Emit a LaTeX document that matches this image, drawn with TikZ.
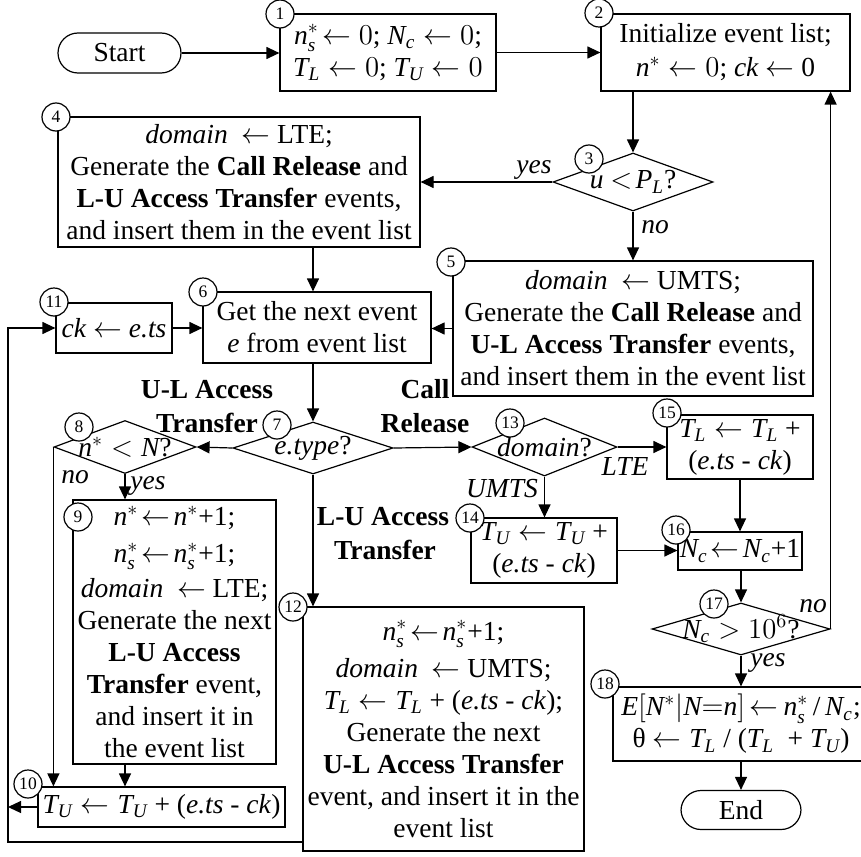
\documentclass[tikz,border=0pt]{standalone}
\usepackage{fontspec}
\setmainfont{Liberation Serif}
\usetikzlibrary{arrows.meta,shapes.geometric}
\newcommand\mainsz{\fontsize{13.75}{16}\selectfont}
\newcommand\numsz{\fontsize{8.75}{10}\selectfont}
\newcommand\mnss{\mathit{n}_{\mathit{s}}^{*}}
\newcommand\mnst{\mathit{n}^{*}}
\newcommand\mNc{\mathit{N}_{\mathit{c}}}
\newcommand\mTL{\mathit{T}_{\mathit{L}}}
\newcommand\mTU{\mathit{T}_{\mathit{U}}}
\newcommand\etsck{(\textit{e.ts} - \textit{ck})}
\begin{document}
\begin{tikzpicture}[x=0.5pt,y=-0.5pt, line width=0.6pt,
  >={Triangle[length=6.5pt,width=6pt]},
  box/.style={draw, rectangle, inner sep=0pt, align=center, font=\mainsz},
  term/.style={draw, rectangle, rounded corners=10pt, inner sep=0pt, font=\mainsz},
  dia/.style={draw, diamond, inner sep=0pt},
  dlab/.style={font=\mainsz, inner sep=0pt},
  num/.style={draw, circle, fill=white, inner sep=0pt, minimum size=14pt, font=\numsz},
  lbl/.style={inner sep=0pt, font=\mainsz\itshape},
  blbl/.style={inner sep=0pt, font=\mainsz\bfseries}]
\useasboundingbox (0,0) rectangle (861,856);

% terminals
\node[term, minimum width=61.5pt, minimum height=20pt] (start) at (119.5,53) {Start};
\node[term, minimum width=60pt, minimum height=19.5pt] (end) at (741,810) {End};

% boxes
\node[box, minimum width=108pt, minimum height=38.5pt] (b1) at (388,52.5)
  {$\mnss\!\leftarrow 0$; $\mNc \leftarrow 0$;\\ $\mTL \leftarrow 0$; $\mTU \leftarrow 0$};
\node[box, minimum width=124.5pt, minimum height=38.5pt] (b2) at (725.5,52.5)
  {Initialize event list;\\[1pt] $\mnst \leftarrow 0$; \textit{ck} $\leftarrow$ 0};
\node[box, minimum width=181pt, minimum height=65pt] (b4) at (239,182)
  {\textit{domain} \ $\leftarrow$ LTE;\\ Generate the \textbf{Call Release} and\\ \textbf{L-U Access Transfer} events,\\ and insert them in the event list};
\node[box, minimum width=180pt, minimum height=67.5pt] (b5) at (633,328.5)
  {\textit{domain} \ $\leftarrow$ UMTS;\\ Generate the \textbf{Call Release} and\\ \textbf{U-L Access Transfer} events,\\ and insert them in the event list};
\node[box, minimum width=114pt, minimum height=35.5pt] (b6) at (317,327.5)
  {Get the next event\\ \textit{e} from event list};
\node[box, minimum width=58pt, minimum height=25pt] (b11) at (114,328)
  {\textit{ck} $\leftarrow$ \textit{e.ts}};
\node[box, minimum width=101.5pt, minimum height=132pt] (b9) at (174.5,632)
  {$\mnst\!\leftarrow\!\mnst$+1;\\[2.5pt] $\mnss\!\leftarrow\!\mnss$+1;\\[1.5pt] \textit{domain} \ $\leftarrow$ LTE;\\ Generate the next\\ \textbf{L-U Access}\\ \textbf{Transfer} event,\\ and insert it in\\ the event list};
\node[box, minimum width=123.5pt, minimum height=20pt] (b10) at (161.5,807)
  {$\mTU \leftarrow \mTU$ + \etsck};
\node[box, minimum width=140.5pt, minimum height=122pt] (b12) at (443.5,729)
  {$\mnss\!\leftarrow\!\mnss$+1;\\[2.5pt] \textit{domain} \ $\leftarrow$ UMTS;\\ $\mTL \leftarrow \mTL$ + \etsck;\\ Generate the next\\ \textbf{U-L Access Transfer}\\ event, and insert it in the\\ event list};
\node[box, minimum width=73pt, minimum height=32.5pt] (b14) at (544,550.5)
  {$\mTU \leftarrow \mTU$ +\\ \etsck};
\node[box, minimum width=73pt, minimum height=32pt] (b15) at (740,447)
  {$\mTL \leftarrow \mTL$ +\\ \etsck};
\node[box, minimum width=62pt, minimum height=19pt] (b16) at (740,551)
  {$\mNc\!\leftarrow\!\mNc$+1};
\node[box, minimum width=128pt, minimum height=37pt] (b18) at (741,724)
  {$\mathit{E}[\mathit{N}^{*}|\mathit{N}{=}\mathit{n}]\,{\leftarrow}\,\mnss$\,/\,$\mNc$;\\ θ $\leftarrow \mTL$ / ($\mTL$ \ + $\mTU$)};

% decisions
\node[dia, minimum width=80pt, minimum height=29pt,
  label={[dlab]center:$\mathit{u}$ $<\!\mathit{P}_{\mathit{L}}$?}] (d3) at (633,182) {};
\node[dia, minimum width=80pt, minimum height=26pt,
  label={[dlab]center:\textit{e.type}?}] (d7) at (313,448) {};
\node[dia, minimum width=71pt, minimum height=26.5pt,
  label={[dlab]center:$\mnst < \mathit{N}$?}] (d8) at (125,447) {};
\node[dia, minimum width=72.5pt, minimum height=29pt,
  label={[dlab]center:\textit{domain}?}] (d13) at (544.5,447) {};
\node[dia, minimum width=89pt, minimum height=26pt,
  label={[dlab]center:$\mNc > 10^{6}$?}] (d17) at (741,629) {};

% connector labels
\node[lbl] (lyes3) at (534,170) {yes};
\node[lbl] (lno3) at (655,227) {no};
\node[blbl] (lul1) at (207,390) {U-L Access};
\node[blbl] (lul2) at (207,423) {Transfer};
\node[blbl] (lcr1) at (425,389) {Call};
\node[blbl] (lcr2) at (425,423) {Release};
\node[blbl] (llu1) at (383,517) {L-U Access};
\node[blbl] (llu2) at (385,550) {Transfer};
\node[lbl] (lno8) at (75,477) {no};
\node[lbl] (lyes8) at (148,486) {yes};
\node[lbl] (llte) at (625,466) {LTE};
\node[lbl] (lumts) at (502,489) {UMTS};
\node[lbl] (lno17) at (813,606) {no};
\node[lbl] (lyes17) at (768,663) {yes};

% loop coordinates
\coordinate (lpb) at (8,842);
\coordinate (lpt) at (8,328);

% connectors
\draw[->] (start.east) -- (b1.west |- start.east);
\draw[->] (b1.east) -- (b2.west);
\draw[->] (b2.south -| d3.north) -- (d3.north);
\draw[->] (d3.west) -- (b4.east |- d3.west);
\draw[->] (d3.south) -- (b5.north);
\draw[->] (b4.south -| d7.north) -- (b6.north -| d7.north);
\draw[->] (b5.west) -- (b6.east |- b5.west);
\draw[->] (b11.east) -- (b6.west |- b11.east);
\draw[->] (b6.south -| d7.north) -- (d7.north);
\draw[->] (d7.west) -- (d8.east);
\draw[->] (d7.east) -- (d13.west);
\draw[->] (d7.south) -- (d7.south |- b12.north);
\draw[->] (d8.south) -- (d8.south |- b9.north);
\draw[->] (d8.west) -- (d8.west |- b10.north);
\draw[->] (b9.south -| d8.south) -- (b10.north -| d8.south);
\draw[->] (b10.west) -- (b10.west -| lpb);
\draw[->] (b12.west |- lpb) -- (lpb) -- (lpt) -- (b11.west |- lpt);
\draw[->] (d13.east) -- (b15.west |- d13.east);
\draw[->] (d13.south) -- (d13.south |- b14.north);
\draw[->] (b14.east) -- (b16.west |- b14.east);
\draw[->] (b15.south) -- (b16.north);
\draw[->] (d17.north |- b16.south) -- (d17.north);
\draw[->] (d17.east) -- (d17.east |- b2.south);
\draw[->] (d17.south) -- (d17.south |- b18.north);
\draw[->] (end.north |- b18.south) -- (end.north);

% step numbers
\node[num] (c1) at (280,14) {1};
\node[num] (c2) at (599,13) {2};
\node[num] (c3) at (589,159) {3};
\node[num] (c4) at (56,117) {4};
\node[num] (c5) at (451,262) {5};
\node[num] (c6) at (203,292) {6};
\node[num] (c7) at (277,425) {7};
\node[num] (c8) at (79,427) {8};
\node[num] (c9) at (78,517) {9};
\node[num] (c10) at (28,784) {10};
\node[num] (c11) at (54,302) {11};
\node[num] (c12) at (293,607) {12};
\node[num] (c13) at (510,423) {13};
\node[num] (c14) at (470,518) {14};
\node[num] (c15) at (667,413) {15};
\node[num] (c16) at (676,530) {16};
\node[num] (c17) at (714,604) {17};
\node[num] (c18) at (605,684) {18};
\end{tikzpicture}
\end{document}
